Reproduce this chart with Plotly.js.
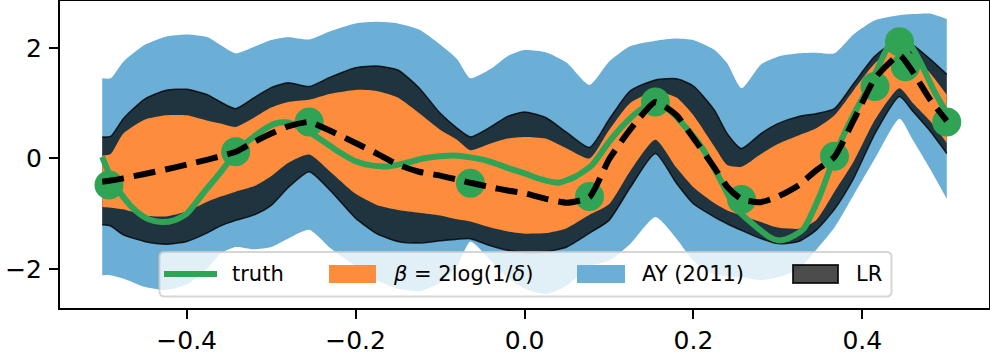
<!DOCTYPE html>
<html>
<head>
<meta charset="utf-8">
<script src="https://cdn.plot.ly/plotly-3.0.1.min.js"></script>
<style>
html, body { margin: 0; padding: 0; background: #fff; }
#plotArea { width: 990px; height: 355px; }
</style>
</head>
<body>
<div id="plotArea"></div>
<script>
// grid the confidence bands are evaluated on
var gridX = [-0.5, -0.49, -0.475, -0.45, -0.425, -0.4, -0.375, -0.36, -0.342, -0.32,
             -0.3, -0.28, -0.255, -0.23, -0.2, -0.175, -0.15, -0.125, -0.1, -0.08,
             -0.064, -0.04, -0.02, 0, 0.025, 0.05, 0.077, 0.1, 0.125, 0.155,
             0.18, 0.2, 0.225, 0.24, 0.257, 0.28, 0.3, 0.325, 0.345, 0.367,
             0.39, 0.415, 0.444, 0.46, 0.48, 0.5];

// AY (2011) band
var ayUpper = [1.45, 1.45, 1.75, 2.05, 2.20, 2.24, 2.19, 2.05, 1.90, 2.02,
               2.14, 2.19, 2.15, 2.30, 2.44, 2.47, 2.44, 2.33, 2.06, 1.80,
               1.45, 1.62, 1.85, 1.96, 1.92, 1.73, 1.33, 1.75, 2.03, 2.13,
               2.17, 2.14, 1.96, 1.72, 1.27, 1.70, 1.84, 1.90, 1.91, 1.90,
               2.25, 2.50, 2.59, 2.61, 2.62, 2.52];
var ayLower = [-2.11, -2.11, -2.17, -2.32, -2.38, -2.28, -1.98, -1.72, -1.60, -1.64,
               -1.60, -1.45, -1.29, -1.62, -1.95, -2.20, -2.35, -2.40, -2.25, -1.95,
               -1.50, -1.85, -2.15, -2.35, -2.45, -2.30, -1.95, -1.85, -1.55, -1.06,
               -1.45, -1.85, -2.10, -2.13, -2.15, -2.20, -2.15, -2.00, -1.66, -1.25,
               -0.65, 0.00, 0.72, 0.33, -0.18, -0.73];

// LR band
var lrUpper = [0.39, 0.40, 0.72, 1.07, 1.23, 1.25, 1.15, 1.02, 0.90, 1.10,
               1.28, 1.37, 1.30, 1.47, 1.64, 1.67, 1.60, 1.28, 0.82, 0.55,
               0.39, 0.57, 0.76, 0.84, 0.74, 0.47, 0.20, 0.70, 1.22, 1.42,
               1.44, 1.31, 0.87, 0.45, 0.18, 0.45, 0.63, 0.76, 0.81, 0.90,
               1.36, 1.85, 2.15, 2.05, 1.80, 1.52];
var lrLower = [-1.20, -1.22, -1.38, -1.50, -1.55, -1.50, -1.34, -1.22, -1.12, -1.02,
               -0.85, -0.53, -0.24, -0.58, -1.08, -1.36, -1.50, -1.53, -1.49, -1.46,
               -1.45, -1.58, -1.66, -1.70, -1.69, -1.60, -1.35, -1.12, -0.53, 0.09,
               -0.45, -0.82, -1.06, -1.18, -1.30, -1.45, -1.54, -1.50, -1.30, -0.92,
               -0.35, 0.45, 1.12, 0.85, 0.50, 0.09];

// beta = 2 log(1/delta) band
var betaUpper = [0.05, 0.08, 0.45, 0.70, 0.78, 0.78, 0.68, 0.63, 0.57, 0.74,
                 0.92, 1.02, 1.06, 1.17, 1.24, 1.22, 1.10, 0.82, 0.52, 0.34,
                 0.15, 0.27, 0.36, 0.39, 0.36, 0.18, 0.00, 0.51, 1.00, 1.21,
                 1.10, 0.78, 0.21, -0.12, -0.15, 0.08, 0.26, 0.42, 0.54, 0.78,
                 1.24, 1.72, 2.05, 1.86, 1.55, 1.15];
var betaLower = [-0.88, -0.89, -0.92, -1.03, -1.05, -0.96, -0.78, -0.69, -0.60, -0.50,
                 -0.32, -0.08, 0.07, -0.24, -0.64, -0.84, -0.93, -0.98, -1.03, -1.10,
                 -1.14, -1.25, -1.32, -1.36, -1.35, -1.26, -1.02, -0.83, -0.23, 0.34,
                 -0.17, -0.52, -0.81, -0.94, -1.03, -1.15, -1.25, -1.27, -1.12, -0.60,
                 -0.05, 0.70, 1.27, 1.00, 0.68, 0.28];

// posterior mean (dashed)
var meanY = [-0.42, -0.40, -0.36, -0.28, -0.20, -0.11, -0.02, 0.04, 0.12, 0.30,
             0.45, 0.58, 0.66, 0.50, 0.28, 0.09, -0.11, -0.24, -0.31, -0.38,
             -0.44, -0.52, -0.58, -0.63, -0.73, -0.80, -0.70, -0.02, 0.52, 1.02,
             0.78, 0.37, -0.17, -0.51, -0.74, -0.79, -0.69, -0.48, -0.22, 0.03,
             0.70, 1.45, 1.87, 1.56, 1.07, 0.68];

// true function
var truthX = [-0.5, -0.49, -0.475, -0.46, -0.445, -0.43, -0.415, -0.4, -0.38, -0.36,
              -0.34, -0.32, -0.3, -0.29, -0.28, -0.26, -0.24, -0.22, -0.2, -0.18,
              -0.16, -0.14, -0.12, -0.1, -0.08, -0.06, -0.04, -0.02, 0, 0.02,
              0.04, 0.06, 0.08, 0.1, 0.12, 0.14, 0.155, 0.17, 0.19, 0.21,
              0.23, 0.25, 0.27, 0.29, 0.3, 0.31, 0.33, 0.35, 0.37, 0.39,
              0.41, 0.43, 0.443, 0.455, 0.47, 0.485, 0.5];
var truthY = [0.03, -0.33, -0.70, -0.95, -1.10, -1.15, -1.12, -1.00, -0.62, -0.25,
              0.14, 0.40, 0.60, 0.65, 0.65, 0.52, 0.33, 0.12, -0.05, -0.13,
              -0.14, -0.08, 0.00, 0.04, 0.05, 0.01, -0.06, -0.17, -0.27, -0.38,
              -0.44, -0.33, -0.12, 0.30, 0.65, 0.91, 0.96, 0.89, 0.58, 0.20,
              -0.33, -0.90, -1.18, -1.42, -1.48, -1.46, -1.28, -0.66, 0.15, 0.80,
              1.36, 2.00, 2.20, 2.10, 1.70, 1.22, 0.82];

// observations
var obsX = [-0.492, -0.342, -0.255, -0.064, 0.077, 0.155, 0.257, 0.367, 0.415, 0.444, 0.451, 0.5];
var obsY = [-0.48, 0.12, 0.66, -0.45, -0.69, 1.02, -0.74, 0.04, 1.30, 2.11, 1.66, 0.66];

var xTickVals = [-0.4, -0.2, 0.0, 0.2, 0.4];
var xTickText = ["\u22120.4", "\u22120.2", "0.0", "0.2", "0.4"];
var yTickVals = [-2, 0, 2];
var yTickText = ["\u22122", "0", "2"];

var legendLabels = ["truth", "<i>\u03b2</i> = 2log(1/<i>\u03b4</i>)", "AY (2011)", "LR"];

var GREEN = "#31a354", ORANGE = "#fd8d3c", BLUE = "#6baed6";
var FONT = "DejaVu Sans";

// one band = upper edge trace + lower edge trace filled back to it
function band(lo, hi, fillcolor, edge) {
    var ln = {shape: "spline", smoothing: 0.6, width: edge ? 1.5 : 0, color: edge || fillcolor};
    return [
        {x: gridX, y: hi, type: "scatter", mode: "lines", line: ln, hoverinfo: "skip"},
        {x: gridX, y: lo, type: "scatter", mode: "lines", line: ln, hoverinfo: "skip",
         fill: "tonexty", fillcolor: fillcolor}
    ];
}

var traces = []
    .concat(band(ayLower, ayUpper, BLUE))
    .concat(band(lrLower, lrUpper, "rgba(0,0,0,0.7)", "rgba(0,0,0,0.8)"))
    .concat(band(betaLower, betaUpper, ORANGE))
    .concat([
        {x: obsX, y: obsY, type: "scatter", mode: "markers",
         marker: {size: 29, color: GREEN, line: {width: 0}}},
        {x: truthX, y: truthY, type: "scatter", mode: "lines",
         line: {color: GREEN, width: 6, shape: "spline", smoothing: 0.6}},
        {x: gridX, y: meanY, type: "scatter", mode: "lines",
         line: {color: "black", width: 6, dash: "22px,10px", shape: "spline", smoothing: 0.5}}
    ]);

// pixel -> paper helpers for the hand-built legend
var W = 990, H = 355, mL = 60, mR = 1, mT = 1, mB = 47;
function px(x) { return (x - mL) / (W - mL - mR); }
function py(y) { return (H - mB - y) / (H - mT - mB); }

function roundRect(x0, y0, x1, y1, r) {
    var rx = r / (W - mL - mR), ry = r / (H - mT - mB);
    var a = px(x0), b = px(x1), t = py(y0), u = py(y1);
    return "M" + (a + rx) + "," + t + " L" + (b - rx) + "," + t +
        " Q" + b + "," + t + " " + b + "," + (t - ry) +
        " L" + b + "," + (u + ry) + " Q" + b + "," + u + " " + (b - rx) + "," + u +
        " L" + (a + rx) + "," + u + " Q" + a + "," + u + " " + a + "," + (u + ry) +
        " L" + a + "," + (t - ry) + " Q" + a + "," + t + " " + (a + rx) + "," + t + " Z";
}

var legY = 274;
var shapes = [
    {type: "path", xref: "paper", yref: "paper", layer: "above",
     path: roundRect(159.5, 252, 891.5, 296.5, 5),
     fillcolor: "rgba(255,255,255,0.8)", line: {color: "rgba(204,204,204,0.8)", width: 2}},
    {type: "line", xref: "paper", yref: "paper", layer: "above",
     x0: px(164), x1: px(217), y0: py(legY), y1: py(legY), line: {color: GREEN, width: 6}},
    {type: "rect", xref: "paper", yref: "paper", layer: "above",
     x0: px(329), x1: px(376), y0: py(265), y1: py(283), fillcolor: ORANGE, line: {width: 0}},
    {type: "rect", xref: "paper", yref: "paper", layer: "above",
     x0: px(577), x1: px(625), y0: py(265), y1: py(283), fillcolor: BLUE, line: {width: 0}},
    {type: "rect", xref: "paper", yref: "paper", layer: "above",
     x0: px(793), x1: px(838), y0: py(265), y1: py(283), fillcolor: "rgba(0,0,0,0.7)",
     line: {color: "rgba(0,0,0,0.8)", width: 2}}
];

var textX = [230, 391, 640, 854];
var annotations = legendLabels.map(function(t, i) {
    return {text: t, xref: "paper", yref: "paper", x: px(textX[i]), y: py(legY),
            xanchor: "left", yanchor: "middle", showarrow: false,
            font: {family: FONT, size: 21, color: "black"}};
});

var axisCommon = {
    showgrid: false, zeroline: false, showline: true, mirror: true,
    linecolor: "black", linewidth: 2, ticks: "outside", ticklen: 9,
    tickwidth: 2, tickcolor: "black", tickmode: "array",
    tickfont: {family: FONT, size: 25, color: "black"}
};

var layout = {
    width: W, height: H,
    margin: {l: mL, r: mR, t: mT, b: mB},
    paper_bgcolor: "white", plot_bgcolor: "white",
    showlegend: false,
    xaxis: Object.assign({}, axisCommon, {range: [-0.55, 0.55], tickvals: xTickVals,
                                          ticktext: xTickText}),
    yaxis: Object.assign({}, axisCommon, {range: [-2.704, 2.847], tickvals: yTickVals,
                                          ticktext: yTickText, ticklabelstandoff: 2}),
    shapes: shapes,
    annotations: annotations
};

Plotly.newPlot("plotArea", traces, layout, {displayModeBar: false, staticPlot: true});
</script>
</body>
</html>
